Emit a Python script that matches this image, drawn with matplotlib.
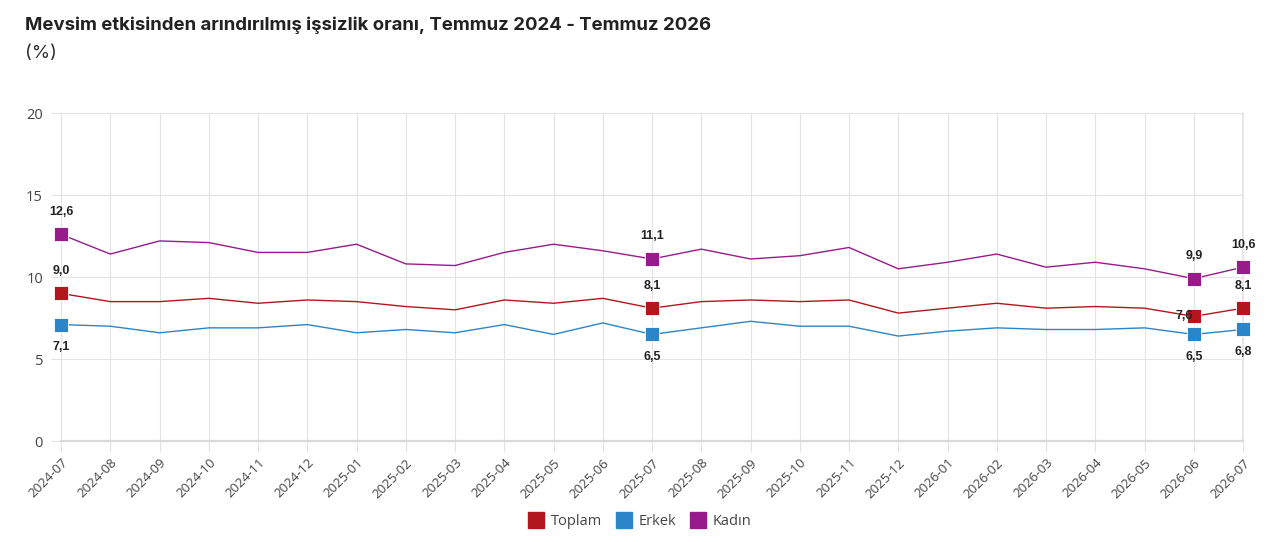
import matplotlib
matplotlib.use("Agg")
import matplotlib.pyplot as plt
import numpy as np

months = ["2024-07", "2024-08", "2024-09", "2024-10", "2024-11", "2024-12",
          "2025-01", "2025-02", "2025-03", "2025-04", "2025-05", "2025-06",
          "2025-07", "2025-08", "2025-09", "2025-10", "2025-11", "2025-12",
          "2026-01", "2026-02", "2026-03", "2026-04", "2026-05", "2026-06",
          "2026-07"]

toplam = [9.0, 8.5, 8.5, 8.7, 8.4, 8.6, 8.5, 8.2, 8.0, 8.6, 8.4, 8.7,
          8.1, 8.5, 8.6, 8.5, 8.6, 7.8, 8.1, 8.4, 8.1, 8.2, 8.1, 7.6, 8.1]
erkek = [7.1, 7.0, 6.6, 6.9, 6.9, 7.1, 6.6, 6.8, 6.6, 7.1, 6.5, 7.2,
         6.5, 6.9, 7.3, 7.0, 7.0, 6.4, 6.7, 6.9, 6.8, 6.8, 6.9, 6.5, 6.8]
kadin = [12.6, 11.4, 12.2, 12.1, 11.5, 11.5, 12.0, 10.8, 10.7, 11.5, 12.0, 11.6,
         11.1, 11.7, 11.1, 11.3, 11.8, 10.5, 10.9, 11.4, 10.6, 10.9, 10.5, 9.9, 10.6]

# points that carry a marker and a value label
marked = [0, 12, 23, 24]

series = [
    ("Toplam", toplam, "#b3171d"),
    ("Erkek", erkek, "#2a86c9"),
    ("Kadın", kadin, "#981b8c"),
]

fig = plt.figure(figsize=(12.8, 5.42), dpi=100)
ax = fig.add_axes([0.0477, 0.1863, 0.9711 - 0.0477, 0.7915 - 0.1863])

x = np.arange(len(months))
for name, vals, col in series:
    ax.plot(x, vals, color=col, linewidth=1.0, zorder=3, clip_on=False)
    ax.plot(x[marked], np.array(vals)[marked], linestyle="none", marker="s",
            markersize=10.5, color=col, markeredgecolor="white",
            markeredgewidth=0.6, zorder=4, clip_on=False)

lab_kw = dict(fontsize=9, fontweight="bold", color="#222222",
              ha="center", family="Liberation Sans", zorder=5)
for i in marked:
    ax.annotate(f"{kadin[i]:.1f}".replace(".", ","), (x[i], kadin[i]),
                xytext=(0, 12), textcoords="offset points", va="bottom", **lab_kw)
    ax.annotate(f"{erkek[i]:.1f}".replace(".", ","), (x[i], erkek[i]),
                xytext=(0, -12), textcoords="offset points", va="top", **lab_kw)
    if i == 23:
        ax.annotate(f"{toplam[i]:.1f}".replace(".", ","), (x[i], toplam[i]),
                    xytext=(-7, 0), textcoords="offset points", va="center",
                    **lab_kw)
    else:
        ax.annotate(f"{toplam[i]:.1f}".replace(".", ","), (x[i], toplam[i]),
                    xytext=(0, 12), textcoords="offset points", va="bottom",
                    **lab_kw)

ax.set_xlim(0, len(months) - 1)
ax.set_ylim(0, 20)
ax.set_yticks([0, 5, 10, 15, 20])
ax.set_xticks(x)
ax.set_xticklabels(months, rotation=45, ha="right", rotation_mode="anchor",
                   fontsize=9.5, color="#444444", family="Open Sans")
for t in ax.get_yticklabels():
    t.set_fontsize(10.5)
    t.set_color("#444444")
    t.set_family("Open Sans")

ax.grid(True, color="#e3e3e3", linewidth=0.8, zorder=0)
ax.tick_params(axis="x", length=8, color="#e3e3e3", width=0.8, pad=3)
ax.tick_params(axis="y", length=7, color="#e3e3e3", width=0.8, pad=6)
for s in ["top", "left"]:
    ax.spines[s].set_visible(False)
ax.spines["right"].set_color("#e3e3e3")
ax.spines["right"].set_linewidth(1.2)
ax.spines["bottom"].set_color("#d9d9d9")
ax.spines["bottom"].set_linewidth(1.6)

fig.text(0.0195, 0.953, "Mevsim etkisinden arındırılmış işsizlik oranı, Temmuz 2024 - Temmuz 2026",
         fontsize=13.4, fontweight="bold", color="#222222", family="Inter",
         va="center", ha="left")
fig.text(0.0195, 0.902, "(%)", fontsize=13.4, color="#333333", family="Inter",
         va="center", ha="left")

handles = [plt.Line2D([], [], linestyle="none", marker="s", markersize=11,
                      color=col) for _, _, col in series]
leg = fig.legend(handles, [s[0] for s in series], loc="center",
                 bbox_to_anchor=(0.5, 0.038), ncol=3, frameon=False,
                 handletextpad=0.5, columnspacing=1.0, handlelength=1.0,
                 prop={"family": "Open Sans", "size": 10.5})
for t in leg.get_texts():
    t.set_color("#444444")

fig.savefig("out.png", dpi=100)
